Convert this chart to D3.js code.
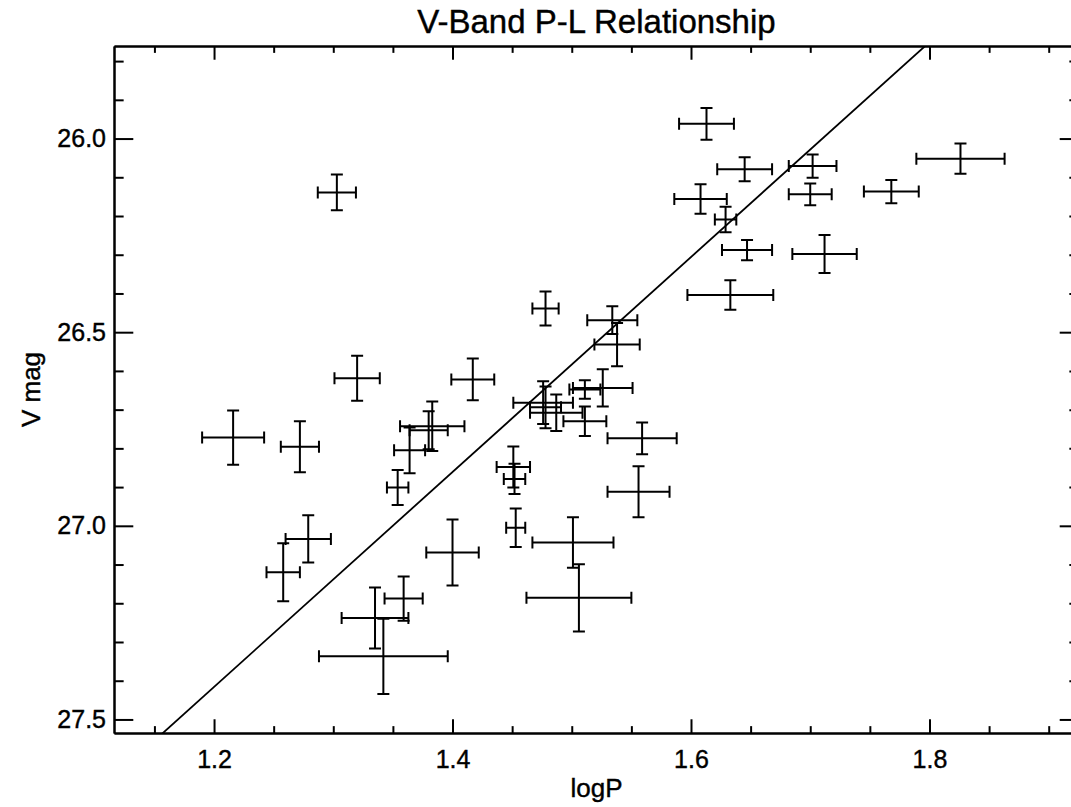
<!DOCTYPE html>
<html>
<head>
<meta charset="utf-8">
<script src="https://cdn.jsdelivr.net/npm/d3@7"></script>
<style>
  body { margin: 0; background: #fff; }
  text { font-family: "Liberation Sans", Helvetica, Arial, sans-serif; fill: #000; stroke: #000; stroke-width: 0.4px; }
</style>
</head>
<body>
<div id="chart"></div>
<script>
// cepheid data
var logP = [1.303, 1.613, 1.645, 1.702, 1.826, 1.608, 1.629, 1.700, 1.768, 1.647,
            1.712, 1.633, 1.478, 1.534, 1.538, 1.320, 1.417, 1.526, 1.511, 1.476,
            1.478, 1.487, 1.511, 1.559, 1.216, 1.272, 1.383, 1.380, 1.364, 1.451,
            1.452, 1.354, 1.556, 1.453, 1.279, 1.501, 1.400, 1.258, 1.359, 1.506,
            1.335, 1.342];
var logPErr = [0.016, 0.023, 0.023, 0.020, 0.037, 0.022, 0.009, 0.018, 0.023, 0.021,
               0.027, 0.036, 0.011, 0.021, 0.019, 0.019, 0.018, 0.025, 0.013, 0.025,
               0.013, 0.022, 0.018, 0.029, 0.026, 0.016, 0.027, 0.016, 0.013, 0.014,
               0.009, 0.009, 0.026, 0.008, 0.019, 0.034, 0.022, 0.014, 0.016, 0.044,
               0.028, 0.054];
var vMag = [26.139, 25.962, 26.079, 26.071, 26.052, 26.156, 26.209, 26.144, 26.137, 26.288,
            26.298, 26.404, 26.439, 26.469, 26.532, 26.619, 26.622, 26.644, 26.648, 26.682,
            26.694, 26.708, 26.730, 26.774, 26.772, 26.796, 26.743, 26.753, 26.805, 26.848,
            26.879, 26.901, 26.912, 27.005, 27.034, 27.043, 27.069, 27.120, 27.188, 27.186,
            27.238, 27.337];
var vMagErr = [0.046, 0.041, 0.031, 0.030, 0.039, 0.038, 0.033, 0.028, 0.030, 0.026,
               0.049, 0.038, 0.044, 0.036, 0.056, 0.058, 0.054, 0.048, 0.024, 0.055,
               0.054, 0.047, 0.038, 0.041, 0.070, 0.066, 0.064, 0.049, 0.059, 0.053,
               0.039, 0.045, 0.066, 0.050, 0.061, 0.065, 0.085, 0.075, 0.057, 0.087,
               0.079, 0.097];

// fitted P-L line: V = fitZero + fitSlope * logP
var fitZero = 30.746;
var fitSlope = -2.775;

var xMajor = [1.2, 1.4, 1.6, 1.8];
var xMinor = [1.15, 1.25, 1.3, 1.35, 1.45, 1.5, 1.55, 1.65, 1.7, 1.75, 1.85, 1.9];
var yMajor = [26.0, 26.5, 27.0, 27.5];
var yMinor = [25.8, 25.9, 26.1, 26.2, 26.3, 26.4, 26.6, 26.7, 26.8, 26.9, 27.1, 27.2, 27.3, 27.4];

var width = 1071, height = 807;
//plot box, right side runs off the page (window.top is taken, so pTop etc)
var pLeft = 114, pRight = 1079, pTop = 46, pBottom = 733;
var capw = 6; //half width of the error bar caps

var svg = d3.select("#chart").append("svg")
    .attr("width", width)
    .attr("height", height)
    .style("display", "block");

var x = d3.scaleLinear().domain([1.1161, 1.9254]).range([pLeft, pRight]);
var y = d3.scaleLinear().domain([25.761, 27.535]).range([pTop, pBottom]);

var xlen = 0.02 * (pBottom - pTop); //idl style tick lengths
var ylen = 0.02 * (pRight - pLeft);

function styleAxis(g) {
    g.attr("font-size", null).attr("font-family", null);
    g.selectAll("path").attr("stroke", "#000").attr("stroke-width", 2);
    g.selectAll("line").attr("stroke", "#000").attr("stroke-width", 2);
    g.selectAll("text").style("font-size", "25px").attr("fill", "#000");
}

// bottom axis with labels
svg.append("g").attr("transform", "translate(0," + pBottom + ")")
    .call(d3.axisBottom(x).tickValues(xMajor).tickSize(-xlen).tickSizeOuter(0)
        .tickPadding(17).tickFormat(d3.format(".1f")))
    .call(styleAxis);
svg.append("g").attr("transform", "translate(0," + pBottom + ")")
    .call(d3.axisBottom(x).tickValues(xMinor).tickSize(-xlen / 2).tickSizeOuter(0).tickFormat(""))
    .call(styleAxis);
// top axis, ticks only
svg.append("g").attr("transform", "translate(0," + pTop + ")")
    .call(d3.axisTop(x).tickValues(xMajor).tickSize(-xlen).tickSizeOuter(0).tickFormat(""))
    .call(styleAxis);
svg.append("g").attr("transform", "translate(0," + pTop + ")")
    .call(d3.axisTop(x).tickValues(xMinor).tickSize(-xlen / 2).tickSizeOuter(0).tickFormat(""))
    .call(styleAxis);

// left axis with labels
svg.append("g").attr("transform", "translate(" + pLeft + ",0)")
    .call(d3.axisLeft(y).tickValues(yMajor).tickSize(-ylen).tickSizeOuter(0)
        .tickPadding(8).tickFormat(d3.format(".1f")))
    .call(styleAxis);
svg.append("g").attr("transform", "translate(" + pLeft + ",0)")
    .call(d3.axisLeft(y).tickValues(yMinor).tickSize(-ylen / 2).tickSizeOuter(0).tickFormat(""))
    .call(styleAxis);
// right axis
svg.append("g").attr("transform", "translate(" + pRight + ",0)")
    .call(d3.axisRight(y).tickValues(yMajor).tickSize(-ylen).tickSizeOuter(0).tickFormat(""))
    .call(styleAxis);
svg.append("g").attr("transform", "translate(" + pRight + ",0)")
    .call(d3.axisRight(y).tickValues(yMinor).tickSize(-ylen / 2).tickSizeOuter(0).tickFormat(""))
    .call(styleAxis);

// clip for the fit line
svg.append("clipPath").attr("id", "box")
    .append("rect")
    .attr("x", pLeft).attr("y", pTop)
    .attr("width", pRight - pLeft).attr("height", pBottom - pTop);

var xd = x.domain();
svg.append("line")
    .attr("clip-path", "url(#box)")
    .attr("x1", x(xd[0])).attr("y1", y(fitZero + fitSlope * xd[0]))
    .attr("x2", x(xd[1])).attr("y2", y(fitZero + fitSlope * xd[1]))
    .attr("stroke", "#000")
    .attr("stroke-width", 1.8);

// error bar crosses
var pts = logP.map(function(d, i) {
    return { p: d, pe: logPErr[i], v: vMag[i], ve: vMagErr[i] };
});

var bars = svg.append("g")
    .attr("stroke", "#000")
    .attr("stroke-width", 2)
    .attr("fill", "none");

var cross = bars.selectAll("g.cross").data(pts).enter().append("g").attr("class", "cross");

cross.append("path").attr("d", function(d) { //horizontal bar with end caps
    var x0 = x(d.p - d.pe), x1 = x(d.p + d.pe), yc = y(d.v);
    return "M" + x0 + "," + yc + "H" + x1 +
        "M" + x0 + "," + (yc - capw) + "V" + (yc + capw) +
        "M" + x1 + "," + (yc - capw) + "V" + (yc + capw);
});
cross.append("path").attr("d", function(d) { //vertical bar with end caps
    var y0 = y(d.v - d.ve), y1 = y(d.v + d.ve), xc = x(d.p);
    return "M" + xc + "," + y0 + "V" + y1 +
        "M" + (xc - capw) + "," + y0 + "H" + (xc + capw) +
        "M" + (xc - capw) + "," + y1 + "H" + (xc + capw);
});

// titles
var cx = (pLeft + pRight) / 2;
svg.append("text")
    .attr("x", cx).attr("y", 33)
    .attr("text-anchor", "middle")
    .style("font-size", "33px")
    .text("V-Band P-L Relationship");

svg.append("text")
    .attr("x", cx).attr("y", 797)
    .attr("text-anchor", "middle")
    .style("font-size", "26px")
    .text("logP");

svg.append("text")
    .attr("transform", "translate(40," + ((pTop + pBottom) / 2) + ") rotate(-90)")
    .attr("text-anchor", "middle")
    .style("font-size", "26px")
    .text("V mag");
</script>
</body>
</html>
